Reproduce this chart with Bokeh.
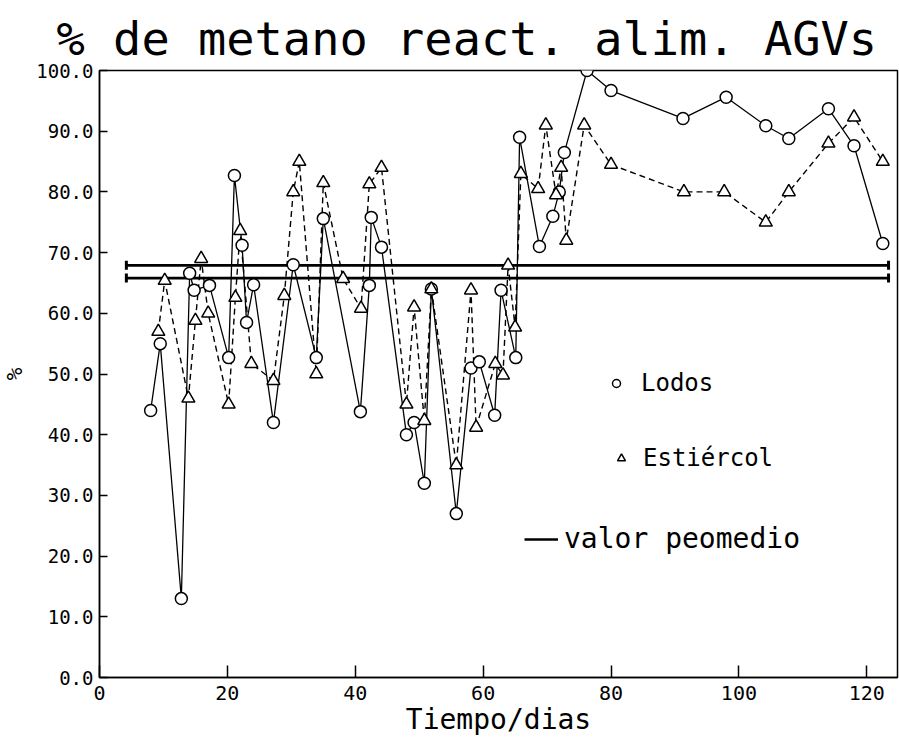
import math
from bokeh.plotting import figure
from bokeh.models import Range1d, FixedTicker, PrintfTickFormatter, Legend, LegendItem
from bokeh.embed import file_html
from bokeh.resources import INLINE

# ---------------- data ----------------
title_text = "% de metano react. alim. AGVs"
x_label = "Tiempo/dias"
y_label = "%"
x_ticks = [0, 20, 40, 60, 80, 100, 120]
y_ticks = [0, 10, 20, 30, 40, 50, 60, 70, 80, 90, 100]

lodos_dias = [8, 9.5, 12.8, 14.1, 14.8, 17.2, 20.2, 21.1, 22.3, 23, 24.1, 27.2,
              30.3, 33.9, 35, 40.8, 42.2, 42.5, 44.1, 48, 49.2, 50.8, 51.9, 55.8,
              58.1, 59.4, 61.8, 62.8, 65.1, 65.7, 68.8, 70.9, 71.9, 72.7, 76.25,
              80, 91.25, 98, 104.2, 107.8, 114, 118, 122.5]
lodos_pct = [44, 55, 13, 66.6, 63.8, 64.6, 52.7, 82.7, 71.2, 58.5, 64.7, 42,
             68, 52.7, 75.6, 43.8, 64.6, 75.8, 70.9, 40, 42, 32, 64, 27,
             51, 52, 43.2, 63.8, 52.7, 89, 71, 76, 80, 86.5, 100,
             96.7, 92.1, 95.6, 90.9, 88.8, 93.7, 87.6, 71.5]

estiercol_dias = [9.2, 10.2, 13.9, 15, 15.9, 17, 20.2, 21.25, 22, 23.75, 27.2, 28.9,
                  30.3, 31.25, 33.9, 35, 38.1, 40.9, 42.2, 44.1, 48, 49.2, 50.8, 51.9,
                  55.8, 58.1, 58.9, 61.9, 63.1, 63.9, 65, 65.9, 68.6, 69.8, 71.4, 72.2,
                  73, 75.8, 80, 91.4, 97.7, 104.2, 107.8, 114, 118, 122.5]
estiercol_pct = [57, 65.4, 46, 58.8, 69, 60, 45, 62.6, 73.6, 51.7, 48.9, 62.9,
                 80, 85, 50, 81.5, 65.7, 60.8, 81.3, 84, 45, 61, 42.3, 64,
                 35, 63.8, 41.2, 51.7, 49.8, 67.9, 57.7, 83, 80.5, 91, 79.5, 84,
                 72, 91, 84.5, 80, 80, 75, 80, 88, 92.3, 85]

promedio_dias = [4.2, 123.4]
promedio_valores = [67.9, 65.8]   # Lodos, Estiércol

legend_labels = ["Lodos", "Estiércol", "valor peomedio"]

MONO = "DejaVu Sans Mono"

# ---------------- figure ----------------
p = figure(width=899, height=742, output_backend="svg", toolbar_location=None,
           x_range=Range1d(0, 124.8), y_range=Range1d(0, 100),
           min_border_left=98, min_border_right=2, min_border_top=70, min_border_bottom=65,
           title=title_text)

p.title.text_font = MONO
p.title.text_font_size = "47px"
p.title.text_font_style = "normal"
p.title.align = "left"
p.title.offset = -43
p.title.text_color = "black"

p.grid.visible = False
p.outline_line_color = "black"
p.outline_line_width = 1.5
p.background_fill_color = "white"
p.border_fill_color = "white"

# axes
p.xaxis.ticker = FixedTicker(ticks=x_ticks)
p.yaxis.ticker = FixedTicker(ticks=y_ticks)
p.yaxis.formatter = PrintfTickFormatter(format="%.1f")
for ax in (p.xaxis[0], p.yaxis[0]):
    ax.axis_line_color = "black"
    ax.axis_line_width = 1.5
    ax.major_tick_line_color = "black"
    ax.major_tick_line_width = 1.5
    ax.major_tick_out = 0
    ax.minor_tick_line_color = None
    ax.major_label_text_font = MONO
    ax.major_label_text_font_size = "19px"
    ax.major_label_text_color = "black"
    ax.axis_label_text_font = MONO
    ax.axis_label_text_font_style = "normal"
    ax.axis_label_text_color = "black"
p.xaxis.major_label_text_font_size = "20px"
p.xaxis.major_tick_in = 12
p.yaxis.major_tick_in = 8
p.xaxis.major_label_standoff = 8
p.yaxis.major_label_standoff = 6
p.xaxis.axis_label = x_label
p.xaxis.axis_label_text_font_size = "28px"
p.xaxis.axis_label_standoff = 0
p.yaxis.axis_label = y_label
p.yaxis.axis_label_text_font_size = "21px"
p.yaxis.axis_label_standoff = 6

# mean lines
r_mean = None
for val in promedio_valores:
    ys = [val] * len(promedio_dias)
    r = p.line(promedio_dias, ys, line_color="black", line_width=2.6)
    p.scatter(promedio_dias, ys, marker="dash", angle=math.pi / 2, size=9,
              line_color="black", line_width=3)
    if r_mean is None:
        r_mean = r

# series
p.line(lodos_dias, lodos_pct, line_color="black", line_width=1.3)
p.line(estiercol_dias, estiercol_pct, line_color="black", line_width=1.4, line_dash="6 4")
r_lodos = p.scatter(lodos_dias, lodos_pct, marker="circle", size=12,
                    fill_color="white", line_color="black", line_width=1.5)
r_est = p.scatter(estiercol_dias, estiercol_pct, marker="triangle", size=13,
                  fill_color="white", line_color="black", line_width=1.5)


def one_legend(label, renderer, loc, gw, standoff, fs):
    lg = Legend(items=[LegendItem(label=label, renderers=[renderer])], location=loc,
                border_line_color=None, background_fill_alpha=0, padding=0, margin=0,
                glyph_width=gw, glyph_height=30, label_height=30, label_standoff=standoff,
                label_text_font=MONO, label_text_font_size=fs, label_text_color="black",
                spacing=0)
    p.add_layout(lg)


one_legend(legend_labels[0], r_lodos, (507, 279), 20, 15, "24px")
one_legend(legend_labels[1], r_est, (512, 204), 20, 12, "24px")
one_legend(legend_labels[2], r_mean, (425, 122), 34, 6, "28px")

with open("out.html", "w", encoding="utf-8") as f:
    f.write(file_html(p, INLINE))
